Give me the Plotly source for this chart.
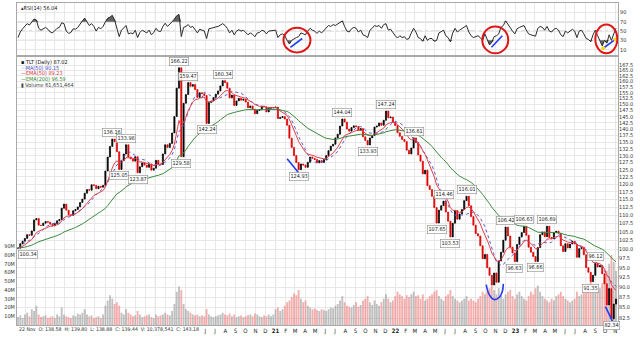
import numpy as np
import pandas as pd
import plotly.graph_objects as go

# ---------------- data ----------------
week_end = pd.date_range("2018-11-09", periods=261, freq="W-FRI")

close = [
    100.34, 101.6, 102.3, 103.1, 104.2, 104.0, 105.3, 108.6, 109.0, 107.0,
    106.9, 107.6, 108.1, 107.9, 107.3, 106.8, 107.5, 108.3, 108.7, 112.2,
    113.5, 111.6, 110.2, 110.0, 111.4, 111.8, 112.6, 114.0, 115.1, 117.0,
    118.2, 118.0, 119.8, 119.6, 118.5, 119.3, 119.0, 119.6, 124.5, 129.5,
    133.4, 136.16, 135.2, 131.4, 125.05, 128.2, 130.6, 133.98, 129.5, 128.8,
    128.0, 129.6, 123.87, 126.0, 127.4, 126.6, 125.8, 127.0, 124.8, 125.5,
    128.3, 127.0, 126.8, 130.6, 134.0, 133.0, 134.5, 138.5, 145.0, 157.0,
    166.22, 129.58, 150.5, 154.2, 159.47, 157.8, 158.6, 156.4, 153.0, 155.0,
    154.6, 153.8, 142.24, 150.8, 151.5, 153.0, 154.4, 155.8, 158.0, 160.34,
    159.5, 157.0, 152.8, 154.0, 149.6, 151.5, 152.6, 151.8, 152.2, 151.0,
    148.6, 149.4, 148.0, 146.2, 147.5, 147.8, 149.3, 149.0, 146.9, 148.4,
    148.6, 148.7, 148.9, 144.2, 144.6, 145.0, 144.0, 141.5, 136.5, 133.0,
    130.0, 127.5, 124.93, 127.0, 126.6, 125.8, 127.6, 129.5, 129.0, 128.6,
    127.4, 128.2, 127.5, 128.6, 130.0, 131.8, 133.5, 134.2, 136.6, 138.0,
    141.2, 144.04, 142.8, 140.0, 139.2, 140.6, 141.3, 141.0, 139.6, 140.2,
    137.0, 135.6, 133.93, 136.6, 137.5, 140.8, 141.2, 142.4, 141.5, 143.5,
    147.24, 144.5, 144.8, 142.8, 141.4, 138.6, 137.2, 136.0, 135.2, 132.0,
    130.6, 132.8, 136.61, 134.8, 130.2, 128.0, 123.5, 124.8, 119.5, 118.2,
    116.0, 112.4, 107.65, 111.6, 113.0, 114.46, 111.0, 108.2, 103.53, 107.6,
    111.5, 108.8, 110.4, 111.8, 114.6, 116.01, 113.0, 109.6, 107.0, 104.5,
    103.8, 101.0, 97.4, 98.6, 95.0, 93.0, 90.5, 93.6, 91.2, 96.8,
    99.2, 102.6, 106.42, 103.8, 100.6, 99.0, 96.63, 101.4, 103.5, 104.8,
    106.63, 104.0, 100.6, 99.2, 98.0, 96.66, 100.5, 104.2, 105.0, 103.6,
    106.69, 103.4, 103.0, 104.8, 105.2, 104.6, 101.0, 99.4, 101.6, 100.4,
    101.5, 102.3, 101.5, 97.8, 100.2, 100.6, 98.5, 95.0, 93.8, 91.35,
    93.0, 96.12, 95.2, 95.6, 93.4, 90.8, 85.6, 89.6, 82.34, 85.8,
    87.02,
]

volume_m = [
    9, 11, 8, 12, 14, 10, 18, 16, 22, 12,
    9, 10, 11, 8, 9, 10, 8, 12, 10, 20,
    12, 10, 9, 8, 11, 10, 13, 12, 14, 18,
    12, 10, 11, 8, 9, 10, 8, 12, 22, 28,
    34, 30, 24, 26, 22, 14, 12, 18, 14, 12,
    10, 11, 16, 12, 9, 10, 11, 12, 9, 8,
    12, 10, 11, 12, 14, 12, 11, 16, 24, 38,
    44, 40, 24, 18, 16, 14, 12, 11, 12, 10,
    11, 10, 18, 12, 10, 9, 10, 11, 12, 14,
    12, 11, 13, 10, 12, 9, 10, 11, 9, 10,
    11, 12, 10, 13, 12, 10, 9, 11, 10, 12,
    10, 12, 18, 20, 16, 18, 22, 26, 28, 32,
    36, 34, 40, 30, 26, 28, 22, 20, 18, 19,
    17, 16, 18, 17, 16, 18, 20, 19, 22, 24,
    28, 33, 26, 22, 21, 20, 23, 26, 21, 23,
    28, 30, 33, 26, 23, 28, 24, 22, 26, 30,
    35, 30, 26, 28, 33, 38, 35, 33, 30, 34,
    32, 35, 38, 33, 34, 30, 35, 28, 30, 33,
    35, 38, 40, 33, 30, 28, 33, 35, 40, 33,
    30, 28, 26, 28, 30, 33, 28, 30, 28, 26,
    30, 33, 38, 35, 38, 42, 45, 40, 35, 42,
    33, 30, 35, 38, 40, 33, 30, 35, 38, 33,
    30, 28, 33, 38, 35, 42, 45, 38, 33, 30,
    28, 26, 30, 28, 33, 35, 38, 33, 30, 28,
    26, 28, 30, 38, 33, 35, 38, 42, 46, 50,
    45, 40, 38, 42, 48, 52, 62, 70, 80, 72,
    61.651464,
]

rsi14 = [
    36, 48, 55, 60, 66, 63, 70, 76, 74, 56,
    52, 56, 58, 54, 48, 46, 52, 56, 58, 68,
    66, 50, 45, 47, 55, 54, 58, 66, 72, 78,
    70, 62, 66, 60, 50, 58, 55, 60, 70, 78,
    80, 84, 74, 55, 38, 52, 58, 62, 44, 46,
    44, 52, 36, 47, 52, 48, 46, 52, 42, 47,
    56, 50, 49, 60, 67, 60, 64, 70, 76, 83,
    86, 38, 58, 60, 64, 58, 60, 52, 46, 54,
    52, 50, 34, 55, 56, 58, 59, 60, 64, 66,
    62, 56, 46, 52, 42, 50, 53, 50, 52, 48,
    42, 46, 43, 38, 46, 47, 52, 50, 44, 50,
    51, 52, 52, 36, 42, 44, 40, 30, 22, 30,
    34, 36, 38, 46, 44, 42, 50, 56, 52, 50,
    45, 50, 46, 52, 58, 62, 60, 64, 62, 66,
    68, 72, 60, 50, 48, 55, 58, 56, 48, 52,
    42, 40, 36, 52, 56, 62, 60, 62, 56, 64,
    66, 52, 54, 46, 40, 35, 40, 36, 38, 32,
    34, 46, 56, 48, 36, 34, 28, 40, 30, 34,
    34, 28, 30, 46, 50, 52, 40, 36, 27, 46,
    56, 48, 52, 56, 60, 62, 48, 40, 36, 38,
    40, 36, 30, 44, 30, 20, 26, 38, 40, 44,
    58, 62, 72, 64, 56, 50, 44, 55, 58, 60,
    62, 52, 44, 42, 40, 39, 56, 60, 58, 52,
    60, 50, 48, 54, 56, 52, 42, 38, 50, 46,
    50, 54, 50, 36, 50, 52, 44, 34, 32, 27,
    42, 52, 40, 30, 18, 30, 24, 42, 30, 44,
    56.04,
]

# swing points: (week index, "H" label above / "L" label below)
swings = [
    (0, "L"), (41, "H"), (44, "L"), (47, "H"), (52, "L"), (70, "H"), (71, "L"),
    (74, "H"), (82, "L"), (89, "H"), (122, "L"), (141, "H"), (152, "L"),
    (160, "H"), (172, "H"), (182, "L"), (185, "H"), (188, "L"), (195, "H"),
    (212, "H"), (216, "L"), (220, "H"), (225, "L"), (230, "H"), (249, "L"),
    (251, "H"), (258, "L"),
]

# hand-drawn divergence marks
rsi_circle_x0 = ["2021-01-25", "2022-09-22", "2023-09-01"]
rsi_circle_x1 = ["2021-04-17", "2022-12-10", "2023-11-07"]
rsi_circle_y0 = [4, 2, 2]
rsi_circle_y1 = [57, 60, 64]
rsi_trend_x = [["2021-02-15", "2021-03-23"], ["2022-10-20", "2022-11-22"], ["2023-09-25", "2023-11-01"]]
rsi_trend_y = [[15, 34], [15, 40], [13, 32]]
price_trend_x = [
    ["2021-02-05", "2021-03-12"],
    ["2022-10-04", "2022-10-13", "2022-10-28", "2022-11-12", "2022-11-22", "2022-11-25"],
    ["2023-10-02", "2023-10-23"],
]
price_trend_y = [[128.9, 123.9], [90.6, 88.1, 86.9, 87.4, 88.9, 90.8], [85.2, 81.8]]

price_ticks = [82.5 + 2.5 * k for k in range(35)]
volume_ticks = [k * 1e7 for k in range(1, 10)]
rsi_ticks = [10, 30, 50, 70, 90]
readout = "22 Nov  O: 138.58  H: 139.80  L: 138.88  C: 139.44  V: 10,378,541  C: 143.18"

assert len(close) == len(volume_m) == len(rsi14) == len(week_end)

# ---------------- derived series ----------------
n = len(close)
s = pd.Series(close)
opens = [close[0]] + close[:-1]
highs = [max(o, c) for o, c in zip(opens, close)]
lows = [min(o, c) for o, c in zip(opens, close)]
ma50 = s.rolling(10, min_periods=1).mean()
ema50 = s.ewm(span=10, adjust=False).mean()
ema200 = s.ewm(span=40, adjust=False).mean()
vol = np.array(volume_m) * 1e6
rsi = np.array(rsi14, dtype=float)
down = [c < o for o, c in zip(opens, close)]

FONT = "Liberation Sans Narrow, DejaVu Sans Condensed, Liberation Sans, Arial"
GRID = "#e8e8e8"
FRAME = "#a9a9a9"
RED = "#e00000"
BLUE_MARK = "#1f3cf0"

fig = go.Figure()

# volume (base axis of the price pane so it sits behind price)
fig.add_trace(go.Bar(
    x=week_end, y=vol, xaxis="x", yaxis="y",
    marker=dict(color=["rgba(236,120,120,0.6)" if d else "rgba(140,140,140,0.55)" for d in down],
                line=dict(width=0)),
    width=7 * 86400000 * 0.8, hoverinfo="skip",
))

# price candles
fig.add_trace(go.Candlestick(
    x=week_end, open=opens, high=highs, low=lows, close=close,
    xaxis="x", yaxis="y2", whiskerwidth=0,
    increasing=dict(line=dict(color="#000000", width=0.7), fillcolor="#000000"),
    decreasing=dict(line=dict(color=RED, width=0.7), fillcolor=RED),
))

# overlays
fig.add_trace(go.Scatter(x=week_end, y=ma50, xaxis="x", yaxis="y2", mode="lines",
                         line=dict(color="#5a5ad2", width=1, dash="dot")))
fig.add_trace(go.Scatter(x=week_end, y=ema50, xaxis="x", yaxis="y2", mode="lines",
                         line=dict(color="#e2404a", width=1)))
fig.add_trace(go.Scatter(x=week_end, y=ema200, xaxis="x", yaxis="y2", mode="lines",
                         line=dict(color="#3c8a3c", width=1)))

for xs, ys in zip(price_trend_x, price_trend_y):
    fig.add_trace(go.Scatter(x=xs, y=ys, xaxis="x", yaxis="y2", mode="lines",
                             line=dict(color=BLUE_MARK, width=1.6, shape="spline")))

# RSI pane: shaded zones above 70 and below 30
fig.add_trace(go.Scatter(x=week_end, y=[70] * n, xaxis="x2", yaxis="y3", mode="lines",
                         line=dict(width=0), hoverinfo="skip"))
fig.add_trace(go.Scatter(x=week_end, y=np.maximum(rsi, 70), xaxis="x2", yaxis="y3", mode="lines",
                         line=dict(width=0), fill="tonexty", fillcolor="rgba(70,70,70,0.85)"))
fig.add_trace(go.Scatter(x=week_end, y=[30] * n, xaxis="x2", yaxis="y3", mode="lines",
                         line=dict(width=0), hoverinfo="skip"))
fig.add_trace(go.Scatter(x=week_end, y=np.minimum(rsi, 30), xaxis="x2", yaxis="y3", mode="lines",
                         line=dict(width=0), fill="tonexty", fillcolor="rgba(70,70,70,0.85)"))
fig.add_trace(go.Scatter(x=week_end, y=rsi, xaxis="x2", yaxis="y3", mode="lines",
                         line=dict(color="#2a2a2a", width=1)))

for k, (xs, ys) in enumerate(zip(rsi_trend_x, rsi_trend_y)):
    fig.add_trace(go.Scatter(
        x=xs, y=ys, xaxis="x2", yaxis="y3",
        mode="lines+markers" if k == 2 else "lines",
        line=dict(color=BLUE_MARK, width=1.6),
        marker=dict(color="#ffd21f", size=4, line=dict(width=0)),
    ))

# ---------------- shapes ----------------
shapes = []
for y0, y1, x0, x1 in zip(rsi_circle_y0, rsi_circle_y1, rsi_circle_x0, rsi_circle_x1):
    shapes.append(dict(type="circle", xref="x2", yref="y3", x0=x0, x1=x1, y0=y0, y1=y1,
                       line=dict(color="#e01515", width=2)))
for lvl, dash, col in [(70, "solid", "#9a9a9a"), (30, "solid", "#9a9a9a"), (50, "dashdot", "#b0b0b0")]:
    shapes.append(dict(type="line", xref="paper", yref="y3", x0=0, x1=1, y0=lvl, y1=lvl,
                       line=dict(color=col, width=1, dash=dash), layer="below"))
for yr in ["2019-01-01", "2020-01-01", "2021-01-01", "2022-01-01", "2023-01-01"]:
    shapes.append(dict(type="line", xref="x", yref="paper", x0=yr, x1=yr, y0=0, y1=1,
                       line=dict(color="#cdcdcd", width=1), layer="below"))

# ---------------- annotations ----------------
H_PLOT = 337 - 2 - 8


def py(pix):
    return 1 - (pix - 2) / H_PLOT


ann = []
for idx, kind in swings:
    v = close[idx]
    ann.append(dict(
        x=week_end[idx], y=np.log10(v), xref="x", yref="y2", text=f"{v:.2f}",
        showarrow=False, yanchor="bottom" if kind == "H" else "top",
        xanchor="left" if idx == 0 else "center",
        yshift=2 if kind == "H" else -2,
        font=dict(size=5.5, color="#222", family=FONT),
        bgcolor="rgba(255,255,255,0.9)", bordercolor="#8a8a8a", borderwidth=0.6, borderpad=0.8,
    ))

legend_rows = [
    ("\u25aa TLT (Daily) " + f"{close[-1]:.2f}", "#111111"),
    ("\u00b7\u00b7\u00b7MA(50) " + f"{ma50.iloc[-1]:.2f}", "#4a4ac8"),
    ("\u2014EMA(50) " + f"{ema50.iloc[-1]:.2f}", "#e0303a"),
    ("\u2014EMA(200) " + f"{ema200.iloc[-1]:.2f}", "#2f8a2f"),
    ("\u25ae Volume " + f"{round(vol[-1]):,}", "#444444"),
]
for k, (txt, col) in enumerate(legend_rows):
    ann.append(dict(x=0.003, y=py(62 + 5.7 * k), xref="paper", yref="paper", text=txt,
                    showarrow=False, xanchor="left", yanchor="middle",
                    font=dict(size=5.5, color=col, family=FONT)))

ann.append(dict(x=0.003, y=py(7), xref="paper", yref="paper",
                text="\u25b4RSI(14) " + f"{rsi[-1]:.2f}", showarrow=False,
                xanchor="left", yanchor="middle", font=dict(size=5.5, color="#222", family=FONT)))
ann.append(dict(x=0.0, y=py(333.5), xref="paper", yref="paper", text=readout, showarrow=False,
                xanchor="left", yanchor="middle", font=dict(size=5.2, color="#333", family=FONT)))

# ---------------- axes ----------------
months = pd.date_range("2018-12-01", "2023-11-01", freq="MS")
month_text = []
for d in months:
    if d < pd.Timestamp("2020-06-01"):
        month_text.append("")
    elif d.month == 1:
        month_text.append(f"<b>{d.year % 100:02d}</b>")
    else:
        month_text.append("JFMAMJJASOND"[d.month - 1])

x_range = ["2018-11-06", "2023-11-09"]
fig.update_layout(
    width=640, height=337,
    margin=dict(l=17, r=22, t=2, b=8),
    paper_bgcolor="white", plot_bgcolor="white",
    showlegend=False,
    font=dict(family=FONT, size=6, color="#222"),
    shapes=shapes, annotations=ann,
    xaxis=dict(domain=[0, 1], anchor="y", type="date", range=x_range,
               tickmode="array", tickvals=months, ticktext=month_text, ticks="",
               showgrid=True, gridcolor=GRID, showline=True, mirror=True, linecolor=FRAME,
               tickfont=dict(size=6, color="#222", family=FONT), zeroline=False,
               rangeslider=dict(visible=False)),
    xaxis2=dict(domain=[0, 1], anchor="y3", type="date", range=x_range, matches="x",
                tickmode="array", tickvals=months, showticklabels=False, ticks="",
                showgrid=True, gridcolor=GRID, showline=True, mirror=True, linecolor=FRAME,
                zeroline=False, rangeslider=dict(visible=False)),
    yaxis=dict(domain=[0, py(57)], anchor="x", range=[0, 306e6], side="left",
               tickmode="array", tickvals=volume_ticks,
               ticktext=[f"{int(v / 1e6)}M" for v in volume_ticks], ticks="",
               showgrid=False, zeroline=False, showline=True, mirror=True, linecolor=FRAME,
               tickfont=dict(size=5.5, color="#333", family=FONT)),
    yaxis2=dict(overlaying="y", anchor="x", side="right", type="log",
                range=[1.90807, 2.23358], tickmode="array", tickvals=price_ticks,
                ticktext=[f"{v:.1f}" for v in price_ticks], ticks="",
                showgrid=True, gridcolor=GRID, zeroline=False,
                tickfont=dict(size=5.5, color="#333", family=FONT)),
    yaxis3=dict(domain=[py(55), 1], anchor="x2", side="right", range=[-2, 110.6],
                tickmode="array", tickvals=rsi_ticks, ticks="",
                showgrid=True, gridcolor=GRID, zeroline=False,
                showline=True, mirror=True, linecolor=FRAME,
                tickfont=dict(size=5.5, color="#333", family=FONT)),
)

fig.write_html("out.html")
